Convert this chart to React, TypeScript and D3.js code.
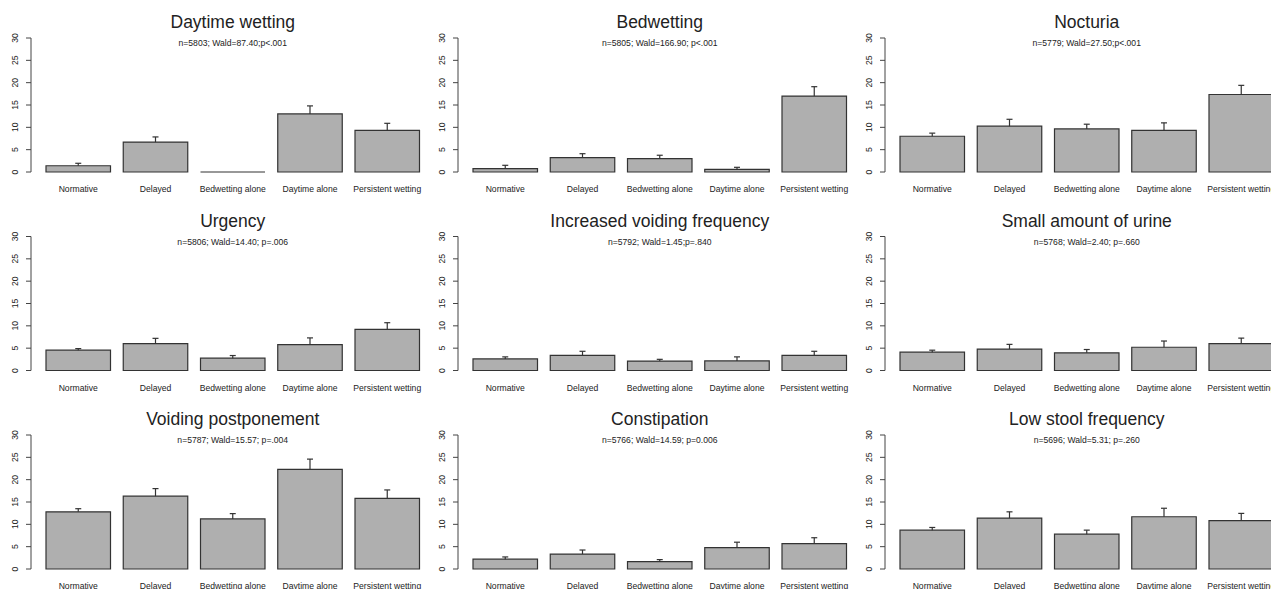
import * as d3 from 'd3'

const categories = ['Normative', 'Delayed', 'Bedwetting alone', 'Daytime alone', 'Persistent wetting']

const titles = [
  'Daytime wetting',
  'Bedwetting',
  'Nocturia',
  'Urgency',
  'Increased voiding frequency',
  'Small amount of urine',
  'Voiding postponement',
  'Constipation',
  'Low stool frequency',
]

const subtitles = [
  'n=5803; Wald=87.40;p<.001',
  'n=5805; Wald=166.90; p<.001',
  'n=5779; Wald=27.50;p<.001',
  'n=5806; Wald=14.40; p=.006',
  'n=5792; Wald=1.45;p=.840',
  'n=5768; Wald=2.40; p=.660',
  'n=5787; Wald=15.57; p=.004',
  'n=5766; Wald=14.59; p=0.006',
  'n=5696; Wald=5.31; p=.260',
]

// percentages per panel, in category order
const values = [
  [1.4, 6.7, 0, 13.0, 9.3],
  [0.75, 3.2, 3.0, 0.6, 17.0],
  [8.0, 10.25, 9.65, 9.3, 17.35],
  [4.55, 6.0, 2.75, 5.8, 9.2],
  [2.6, 3.4, 2.1, 2.15, 3.4],
  [4.1, 4.8, 3.95, 5.2, 6.0],
  [12.8, 16.3, 11.2, 22.3, 15.8],
  [2.2, 3.35, 1.65, 4.8, 5.7],
  [8.7, 11.4, 7.8, 11.7, 10.85],
]

// upper end of the error bars
const upper = [
  [1.95, 7.85, 0, 14.8, 10.9],
  [1.5, 4.1, 3.75, 1.05, 19.1],
  [8.7, 11.8, 10.7, 11.0, 19.4],
  [4.9, 7.2, 3.35, 7.3, 10.7],
  [3.05, 4.3, 2.5, 3.05, 4.3],
  [4.55, 5.85, 4.7, 6.6, 7.25],
  [13.5, 18.0, 12.4, 24.6, 17.7],
  [2.7, 4.25, 2.1, 6.0, 7.0],
  [9.3, 12.8, 8.7, 13.6, 12.45],
]

const yTicks = [0, 5, 10, 15, 20, 25, 30]

const W = 1271
const H = 589
const colStep = 427
const rowStep = 198.5
const font = 'Liberation Sans, Arial, Helvetica, sans-serif'
const ink = '#222'

function Panel({ idx }: { idx: number }) {
  const col = idx % 3
  const row = Math.floor(idx / 3)
  const ox = col * colStep
  const oy = row * rowStep

  const x = d3
    .scaleBand<string>()
    .domain(categories)
    .range([46, 419.5])
    .paddingInner(0.165)
    .paddingOuter(0)
  const y = d3.scaleLinear().domain([0, 30]).range([172, 38])
  const axisX = 31
  const centerX = (46 + 419.5) / 2

  return (
    <g transform={`translate(${ox},${oy})`}>
      <text x={centerX} y={28} textAnchor="middle" fontSize={17.5} fill={ink} fontFamily={font}>
        {titles[idx]}
      </text>
      <text x={centerX} y={46} textAnchor="middle" fontSize={8.6} fill={ink} fontFamily={font}>
        {subtitles[idx]}
      </text>

      {/* y axis */}
      <line x1={axisX} x2={axisX} y1={y(0)} y2={y(30)} stroke="#444" strokeWidth={1} />
      {yTicks.map((t) => (
        <g key={t}>
          <line x1={axisX - 5} x2={axisX} y1={y(t)} y2={y(t)} stroke="#444" strokeWidth={1} />
          <text
            transform={`translate(17.5,${y(t)}) rotate(-90)`}
            textAnchor="middle"
            fontSize={8.6}
            fill={ink}
            fontFamily={font}
          >
            {t}
          </text>
        </g>
      ))}

      {/* bars */}
      {categories.map((c, i) => {
        const v = values[idx][i]
        const u = upper[idx][i]
        const bx = x(c)!
        const bw = x.bandwidth()
        const cx = bx + bw / 2
        const top = y(v)
        const base = y(0)
        return (
          <g key={c}>
            <path
              d={`M${bx},${base}L${bx},${top}L${bx + bw},${top}L${bx + bw},${base}Z`}
              fill="#afafaf"
              stroke="#333"
              strokeWidth={1.2}
            />
            {u > v && (
              <g stroke="#333" strokeWidth={1.2}>
                <line x1={cx} x2={cx} y1={top} y2={y(u)} />
                <line x1={cx - 3} x2={cx + 3} y1={y(u)} y2={y(u)} />
              </g>
            )}
            <text x={cx} y={192} textAnchor="middle" fontSize={8.6} fill={ink} fontFamily={font}>
              {c}
            </text>
          </g>
        )
      })}
    </g>
  )
}

export default function App() {
  return (
    <div style={{ position: 'absolute', left: 0, top: 0, width: W, height: H, background: '#fff' }}>
      <svg width={W} height={H} style={{ display: 'block' }}>
        <rect width={W} height={H} fill="#fff" />
        {titles.map((_, i) => (
          <Panel key={i} idx={i} />
        ))}
      </svg>
    </div>
  )
}
